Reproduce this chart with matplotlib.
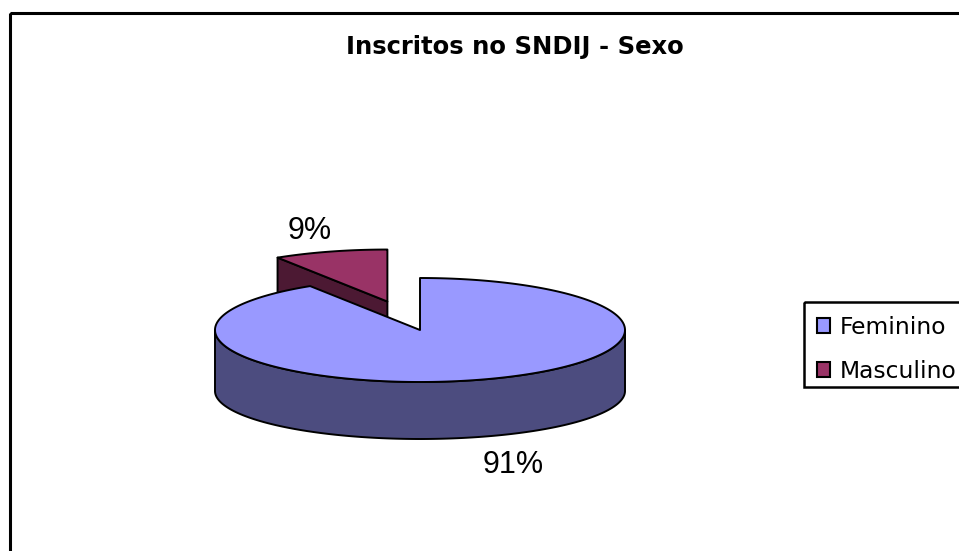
import numpy as np
import matplotlib.pyplot as plt
from matplotlib.patches import Patch, Rectangle

# data
categories = ["Feminino", "Masculino"]
shares = [91, 9]
explode = [0.0, 0.57]

TOP_COLORS = ["#9999FF", "#993366"]
SIDE_COLORS = ["#4C4C7F", "#4C1933"]

# pie geometry in pixels
CX, CY = 420, 330
RX, RY = 205, 52
RY_BOT = 48
DEPTH = 61
LW = 1.4

fig = plt.figure(figsize=(9.59, 5.51), dpi=100)
ax = fig.add_axes([0, 0, 1, 1])
ax.set_xlim(0, 959)
ax.set_ylim(551, 0)
ax.axis("off")

# outer chart frame
ax.add_patch(Rectangle((10, 13), 1000, 600, fill=False, edgecolor="black", lw=2.2))


def top_pt(phi, ox, oy):
    return ox + RX * np.cos(phi), oy - RY * np.sin(phi)


def bot_pt(phi, ox, oy):
    return ox + RX * np.cos(phi), oy + DEPTH - RY_BOT * np.sin(phi)


# slice angles, clockwise from 12 o'clock
total = float(sum(shares))
slices = []
cum = 0.0
for i, v in enumerate(shares):
    p1 = np.deg2rad(90 - (cum + v) / total * 360)
    p2 = np.deg2rad(90 - cum / total * 360)
    cum += v
    mid = (p1 + p2) / 2
    ox = CX + explode[i] * RX * np.cos(mid)
    oy = CY - explode[i] * RY * np.sin(mid)
    slices.append((i, p1, p2, mid, ox, oy))

# back slices first
for i, p1, p2, mid, ox, oy in sorted(slices, key=lambda s: s[5]):
    # radial faces facing the viewer
    for phi, vis in ((p2, np.cos(p2) < -1e-9), (p1, np.cos(p1) > 1e-9)):
        if vis:
            tx, ty = top_pt(phi, ox, oy)
            bx, by = bot_pt(phi, ox, oy)
            ax.fill([ox, tx, bx, ox], [oy, ty, by, oy + DEPTH],
                    facecolor=SIDE_COLORS[i], edgecolor="black", lw=LW, joinstyle="round")
    # outer side (front half of the ellipse)
    for k in range(-1, 2):
        lo = max(p1, np.pi + 2 * np.pi * k)
        hi = min(p2, 2 * np.pi + 2 * np.pi * k)
        if hi > lo:
            ph = np.linspace(lo, hi, 200)
            tx, ty = top_pt(ph, ox, oy)
            bx, by = bot_pt(ph[::-1], ox, oy)
            ax.fill(np.r_[tx, bx], np.r_[ty, by], facecolor=SIDE_COLORS[i],
                    edgecolor="black", lw=LW, joinstyle="round")
    # top face
    ph = np.linspace(p1, p2, 400)
    tx, ty = top_pt(ph, ox, oy)
    ax.fill(np.r_[ox, tx, ox], np.r_[oy, ty, oy], facecolor=TOP_COLORS[i],
            edgecolor="black", lw=LW, joinstyle="round")

# percentage labels
for i, p1, p2, mid, ox, oy in slices:
    below = np.sin(mid) < 0
    lx = ox + 1.36 * RX * np.cos(mid) + (15 if below else 0)
    ly = oy - 1.45 * RY * np.sin(mid) + (DEPTH if below else 0) + 2
    ax.text(lx, ly, f"{shares[i] / total * 100:.0f}%", ha="center", va="center",
            fontsize=22, family="Liberation Sans")

ax.text(515, 47, "Inscritos no SNDIJ - Sexo", ha="center", va="center",
        fontsize=17.5, fontweight="bold", family="DejaVu Sans")

# legend box drawn separately so its padding matches the original
ax.add_patch(Rectangle((804, 302), 300, 85, fill=False, edgecolor="black", lw=1.8))
handles = [Patch(facecolor=c, edgecolor="black", lw=1.5) for c in TOP_COLORS]
leg = ax.legend(handles, categories, loc="upper left",
                bbox_to_anchor=(804 / 959, 1 - 303 / 551), borderaxespad=0,
                prop={"family": "DejaVu Sans", "size": 16.8},
                frameon=False,
                borderpad=0.55, handlelength=0.57, handleheight=0.57,
                handletextpad=0.4, labelspacing=0.9)

fig.savefig("out.png", dpi=100)
